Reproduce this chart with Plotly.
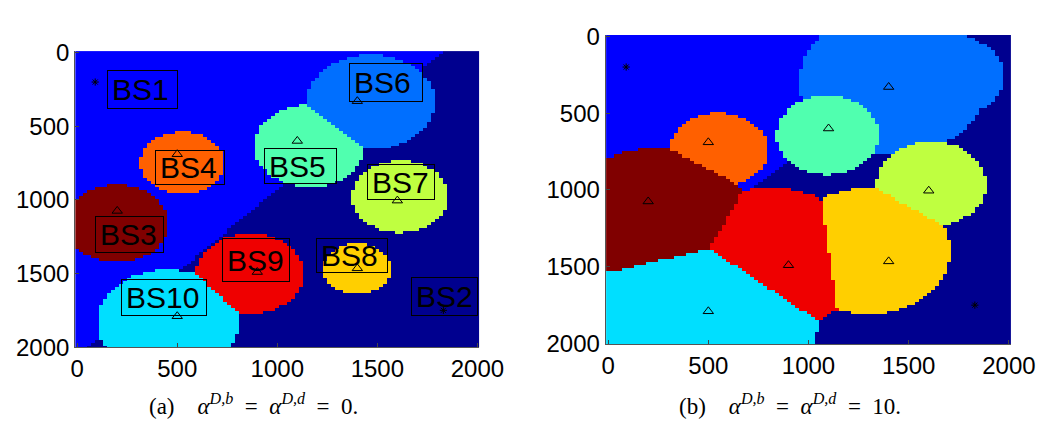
import numpy as np
import plotly.graph_objects as go

# ---------------- data ----------------
bs_names = ["BS1", "BS2", "BS3", "BS4", "BS5", "BS6", "BS7", "BS8", "BS9", "BS10"]
bs_x = [90, 1830, 200, 500, 1100, 1400, 1600, 1400, 900, 500]
bs_y = [200, 1750, 1075, 690, 600, 330, 1005, 1465, 1490, 1790]
bs_colors = ["#0000FF", "#00008F", "#800000", "#FF6000", "#50FFAF",
             "#006FFF", "#BFFF40", "#FFCF00", "#EF0000", "#00DFFF"]

# coverage discs of the small cells: owning BS number, centre x, centre y, radius, layer
cov_a_bs = [3, 4, 5, 6, 7, 8, 9, 10]
cov_a_cx = [196, 527, 1163, 1470, 1617, 1400, 865, 454]
cov_a_cy = [1156, 745, 634, 334, 978, 1463, 1497, 1828]
cov_a_r = [262, 210, 278, 321, 243, 171, 270, 354]
cov_a_layer = [1, 1, 1, 1, 1, 1, 1, 1]
macro_w_a = [1.0, 1.0]

cov_b_bs = [3, 4, 5, 6, 6, 7, 8, 9, 10]
cov_b_cx = [240, 553, 1093, 1420, 1715, 1612, 1295, 815, 445]
cov_b_cy = [1200, 740, 645, 300, 260, 962, 1400, 1452, 1872]
cov_b_r = [470, 244, 256, 470, 262, 275, 410, 462, 598]
cov_b_layer = [1, 1, 1, 0, 0, 1, 1, 1, 1]
macro_w_b = [0.756, 1.0]

grid = list(range(0, 2001, 20))
ticks = [0, 500, 1000, 1500, 2000]

# label boxes of panel (a): centre x, centre y (data), width, height (px)
lab_x = [328, 1834, 263, 565, 1118, 1545, 1619, 1371, 892, 433]
lab_y = [250, 1653, 1238, 782, 768, 201, 882, 1379, 1408, 1661]
lab_w = [71, 67, 69, 70, 73, 74, 68, 72, 68, 86]
lab_h = [39, 39, 37, 35, 36, 39, 36, 35, 44, 37]

EM, EN = "\u2003", "\u2002"
captions = ["(a)" + EM + "<i>α</i><sup><i>D,b</i></sup>" + EN + "=" + EN
            + "<i>α</i><sup><i>D,d</i></sup>" + EN + "=" + EN + "0.",
            "(b)" + EM + "<i>α</i><sup><i>D,b</i></sup>" + EN + "=" + EN
            + "<i>α</i><sup><i>D,d</i></sup>" + EN + "=" + EN + "10."]


def region_map(bs, cx, cy, r, layer, mw):
    g = np.array(grid, dtype=float)
    X, Y = np.meshgrid(g, g)
    P = np.stack([(X - a) ** 2 + (Y - b) ** 2 - c ** 2 for a, b, c in zip(cx, cy, r)])
    L = np.array(layer, dtype=float)[:, None, None]
    S = np.where(P < 0, P - L * 1e8, np.inf)
    best = np.argmin(S, axis=0)
    covered = np.isfinite(np.min(S, axis=0))
    d1 = np.hypot(X - bs_x[0], Y - bs_y[0]) / mw[0]
    d2 = np.hypot(X - bs_x[1], Y - bs_y[1]) / mw[1]
    macro = np.where(d1 <= d2, 1, 2)
    return np.where(covered, np.array(bs)[best], macro)


n = len(bs_colors)
cscale = []
for i, c in enumerate(bs_colors):
    cscale.append([i / n, c])
    cscale.append([(i + 1) / n, c])

fig = go.Figure()
za = region_map(cov_a_bs, cov_a_cx, cov_a_cy, cov_a_r, cov_a_layer, macro_w_a)
zb = region_map(cov_b_bs, cov_b_cx, cov_b_cy, cov_b_r, cov_b_layer, macro_w_b)
for z, xa, ya in [(za, "x", "y"), (zb, "x2", "y2")]:
    fig.add_trace(go.Heatmap(x=grid, y=grid, z=z, colorscale=cscale, zmin=0.5, zmax=10.5,
                             showscale=False, xaxis=xa, yaxis=ya, hoverinfo="skip"))
    fig.add_trace(go.Scatter(x=bs_x[2:], y=bs_y[2:], mode="markers", xaxis=xa, yaxis=ya,
                             marker=dict(symbol="triangle-up-open", size=9, color="black",
                                         line=dict(width=1, color="black")),
                             showlegend=False, hoverinfo="skip"))
    fig.add_trace(go.Scatter(x=bs_x[:2], y=bs_y[:2], mode="markers", xaxis=xa, yaxis=ya,
                             marker=dict(symbol="asterisk-open", size=6, color="black",
                                         line=dict(width=1, color="black")),
                             showlegend=False, hoverinfo="skip"))

W, H = 1059, 437
ax_common = dict(tickvals=ticks, ticks="inside", ticklen=4,
                 tickcolor="#444", showline=True, linecolor="#555", linewidth=1,
                 showgrid=False, zeroline=False, mirror=False,
                 tickfont=dict(family="Liberation Sans, Arial", size=24, color="black"))
fig.update_layout(
    width=W, height=H, margin=dict(l=0, r=0, t=0, b=0),
    paper_bgcolor="white", plot_bgcolor="white", showlegend=False,
    xaxis=dict(domain=[64 / W, 480 / W], range=[-10, 2010], anchor="y", **ax_common),
    yaxis=dict(domain=[1 - 347 / H, 1 - 33 / H], range=[2000, -10], anchor="x", **ax_common),
    xaxis2=dict(domain=[610 / W, 1027 / W], range=[-12, 2010], anchor="y2", **ax_common),
    yaxis2=dict(domain=[1 - 344 / H, 1 - 16 / H], range=[2005, -8], anchor="x2", **ax_common),
)

ann = []
for name, x, y, w, h in zip(bs_names, lab_x, lab_y, lab_w, lab_h):
    ann.append(dict(x=x, y=y, xref="x", yref="y", text=name, showarrow=False,
                    font=dict(family="Liberation Sans, Arial", size=30, color="black"),
                    bordercolor="black", borderwidth=1, borderpad=4,
                    width=w - 10, height=h - 10, align="left", valign="middle"))
for cap, xc in zip(captions, [247, 800]):
    ann.append(dict(x=xc / W, y=1 - 408 / H, xref="paper", yref="paper", text=cap,
                    showarrow=False, xanchor="center", yanchor="middle",
                    font=dict(family="Liberation Serif, Times New Roman, serif", size=23,
                              color="black")))
fig.update_layout(annotations=ann)

fig.write_html("out.html")
